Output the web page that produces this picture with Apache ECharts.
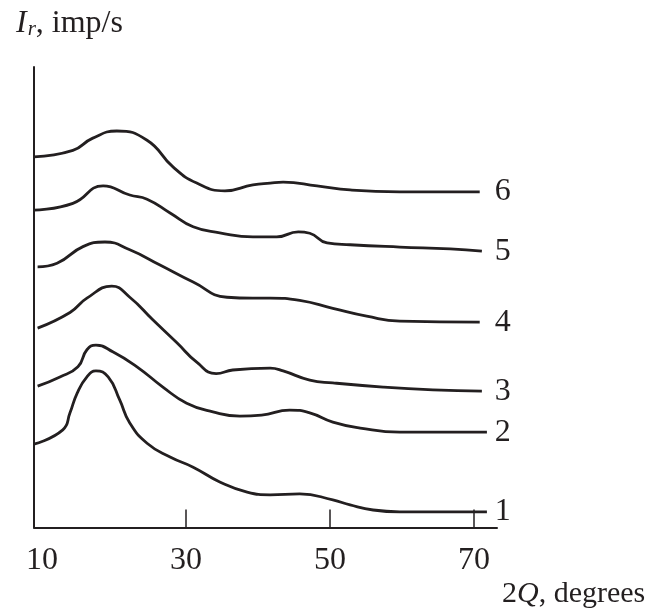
<!DOCTYPE html>
<html>
<head>
<meta charset="utf-8">
<script src="https://cdn.jsdelivr.net/npm/echarts@6/dist/echarts.min.js"></script>
<style>
html,body{margin:0;padding:0;background:#fff;}
#chart{width:648px;height:613px;}
</style>
</head>
<body>
<div id="chart"></div>
<script>
// Curve data: [2Q (degrees), intensity (arbitrary units)]
const curve1 = [[8.9,18.1],[12.9,21.2],[13.9,24.9],[14.9,29.2],[16.25,32.7],[17.5,34.0],[19.2,32.7],[20.8,27.7],[22.2,22.7],[24.6,18.3],[27.8,15.3],[31.0,13.1],[34.7,9.9],[38.5,7.7],[41.7,7.1],[45.8,7.3],[50.4,6.0],[52.8,4.9],[56.0,3.8],[59.7,3.4],[64.9,3.4],[71.8,3.4]];
const curve2 = [[9.4,30.7],[12.5,32.7],[15.0,34.9],[16.25,38.6],[17.5,39.6],[19.9,38.1],[23.2,34.9],[26.8,30.5],[30.1,27.0],[33.75,25.1],[37.5,24.2],[40.5,24.4],[44.4,25.5],[47.2,24.9],[50.4,22.9],[54.2,21.6],[59.7,20.7],[71.8,20.7]];
const curve3 = [[9.4,43.3],[13.9,46.7],[16.25,49.8],[19.7,52.4],[22.2,50.0],[25.4,45.1],[28.75,40.1],[31.5,35.9],[34.2,33.4],[36.5,34.2],[41.7,34.6],[43.5,34.0],[47.2,32.0],[50.4,31.4],[57.4,30.5],[64.3,29.9],[71.1,29.6]];
const curve4 = [[9.4,56.6],[12.1,57.4],[15.7,61.0],[18.75,62.0],[22.2,60.3],[26.4,57.0],[31.0,53.3],[35.7,50.0],[39.3,49.8],[41.7,49.8],[45.8,49.3],[50.4,47.6],[55.1,45.9],[59.7,44.8],[70.8,44.6]];
const curve5 = [[8.9,68.9],[14.3,70.4],[18.5,74.2],[22.2,72.2],[24.6,71.3],[27.8,68.3],[31.0,65.3],[34.7,64.0],[39.3,63.1],[42.6,63.1],[45.6,64.2],[47.2,63.9],[49.6,61.8],[52.8,61.4],[59.7,60.9],[66.7,60.5],[71.1,60.0]];
const curve6 = [[8.9,80.5],[14.3,81.9],[17.0,84.5],[20.4,86.1],[24.6,84.1],[28.2,78.3],[31.5,74.8],[35.4,73.1],[39.3,74.4],[41.7,74.8],[43.5,75.0],[48.2,74.2],[52.8,73.3],[59.7,72.9],[70.8,72.9]];
const curveNames = ['1','2','3','4','5','6'];
const xLabelValues = [10, 30, 50, 70];
const xTickValues = [30, 50, 70];

const curves = [curve1, curve2, curve3, curve4, curve5, curve6];
const INK = '#231f20';
const SERIF = '"Liberation Serif","DejaVu Serif",serif';
const FS = 32;
const labelX = 72.2;
const pxPerUnit = 7.2;

const chart = echarts.init(document.getElementById('chart'), null, {renderer:'canvas'});
chart.setOption({
  animation: false,
  backgroundColor: '#fff',
  title: [{
    left: 11, top: 2,
    text: '{i|I}{s|r}{n|, imp/s}',
    textStyle: {
      fontWeight: 'normal',
      rich: {
        i: {fontFamily: SERIF, fontSize: FS, fontStyle: 'italic', fontWeight: 'normal', color: INK},
        s: {fontFamily: SERIF, fontSize: 21, fontStyle: 'italic', fontWeight: 'normal', color: INK, padding: [12,0,0,1]},
        n: {fontFamily: SERIF, fontSize: FS, fontWeight: 'normal', color: INK}
      }
    }
  }, {
    left: 497, top: 574,
    text: '{n|2}{i|Q}{n|, degrees}',
    textStyle: {
      fontWeight: 'normal',
      rich: {
        i: {fontFamily: SERIF, fontSize: 30, fontStyle: 'italic', fontWeight: 'normal', color: INK},
        n: {fontFamily: SERIF, fontSize: 30, fontWeight: 'normal', color: INK}
      }
    }
  }],
  grid: {left: 34, right: 151, top: 67, bottom: 85.5},
  xAxis: {
    type: 'value', min: 8.9, max: 73.2,
    axisLine: {show: true, onZero: false, lineStyle: {color: INK, width: 2}},
    axisTick: {show: true, inside: true, length: 18, customValues: xTickValues, lineStyle: {color: INK, width: 1.5}},
    axisLabel: {show: true, customValues: xLabelValues, margin: 17, fontFamily: SERIF, fontSize: FS, color: INK},
    splitLine: {show: false}
  },
  yAxis: {
    type: 'value', min: 0, max: 100,
    axisLine: {show: true, onZero: false, lineStyle: {color: INK, width: 2}},
    axisTick: {show: false},
    axisLabel: {show: false},
    splitLine: {show: false}
  },
  series: curves.map((c, i) => ({
    type: 'line',
    name: curveNames[i],
    data: c,
    smooth: 0.5,
    showSymbol: false,
    lineStyle: {color: INK, width: 2.8},
    endLabel: {
      show: true,
      formatter: curveNames[i],
      distance: (labelX - c[c.length-1][0]) * pxPerUnit + 5,
      fontFamily: SERIF, fontSize: FS, color: INK
    }
  }))
});
</script>
</body>
</html>
